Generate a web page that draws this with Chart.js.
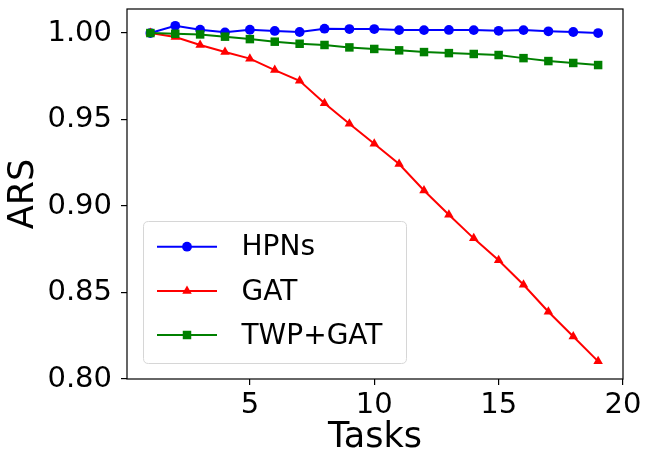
<!DOCTYPE html>
<html>
<head>
<meta charset="utf-8">
<script src="https://cdn.jsdelivr.net/npm/chart.js@4/dist/chart.umd.min.js"></script>
<style>
html,body{margin:0;padding:0;background:#fff;}
#wrap{width:652px;height:467px;position:relative;}
</style>
</head>
<body>
<div id="wrap"><canvas id="c"></canvas></div>
<script>
const tasks = [1,2,3,4,5,6,7,8,9,10,11,12,13,14,15,16,17,18,19];
const hpns = [1.000,1.0042,1.0019,1.0004,1.0019,1.0012,1.0006,1.0025,1.0023,1.0023,1.0017,1.0017,1.0018,1.0017,1.0013,1.0017,1.0010,1.0006,1.0000];
const gat = [1.000,0.9977,0.9931,0.9890,0.9852,0.9786,0.9724,0.9594,0.9476,0.9360,0.9243,0.9090,0.8950,0.8813,0.8686,0.8545,0.8389,0.8246,0.8102];
const twpgat = [1.000,0.9996,0.9992,0.9979,0.9965,0.9950,0.9938,0.9931,0.9917,0.9908,0.9900,0.9890,0.9884,0.9879,0.9873,0.9855,0.9838,0.9827,0.9815];
const seriesLabels = ['HPNs','GAT','TWP+GAT'];
const xTicks = [5,10,15,20];
const yTicks = [0.80,0.85,0.90,0.95,1.00];
const xTitle = 'Tasks';
const yTitle = 'ARS';

const FONT = "'DejaVu Sans', sans-serif";
const colors = ['#0000ff','#ff0000','#008000'];
const styles = ['circle','triangle','rect'];
const radii = [4.9,5.5,6];

function mk(i, data){
  return {
    label: seriesLabels[i],
    data: tasks.map((t,k)=>({x:t,y:data[k]})),
    borderColor: colors[i],
    backgroundColor: colors[i],
    pointBackgroundColor: colors[i],
    pointBorderColor: colors[i],
    pointBorderWidth: 0,
    pointStyle: styles[i],
    pointRadius: radii[i],
    pointHoverRadius: radii[i],
    borderWidth: 2,
    tension: 0,
    fill: false,
    order: 3 - i,
    clip: false
  };
}

function drawMarker(ctx, style, x, y, r, color){
  ctx.save();
  ctx.fillStyle = color;
  ctx.beginPath();
  if (style === 'circle') {
    ctx.arc(x, y, r, 0, Math.PI*2);
  } else if (style === 'triangle') {
    for (let k=0;k<3;k++){
      const a = k*2*Math.PI/3;
      const px = x + Math.sin(a)*r, py = y - Math.cos(a)*r;
      if(k===0) ctx.moveTo(px,py); else ctx.lineTo(px,py);
    }
    ctx.closePath();
  } else {
    const s = Math.SQRT1_2*r;
    ctx.rect(x-s,y-s,2*s,2*s);
  }
  ctx.fill();
  ctx.restore();
}

const framePlugin = {
  id: 'frame',
  afterDraw(chart){
    const {ctx, chartArea:a} = chart;
    ctx.save();
    ctx.strokeStyle = '#000';
    ctx.lineWidth = 1.2;
    ctx.strokeRect(a.left, a.top, a.right - a.left, a.bottom - a.top);
    ctx.restore();
  }
};

const legendPlugin = {
  id: 'mplLegend',
  afterDraw(chart){
    const ctx = chart.ctx;
    const x0 = 143.5, y0 = 221.5, w = 263, h = 142, rr = 5;
    ctx.save();
    ctx.fillStyle = 'rgba(255,255,255,0.8)';
    ctx.strokeStyle = '#d6d6d6';
    ctx.lineWidth = 1;
    ctx.beginPath();
    ctx.moveTo(x0+rr,y0);
    ctx.lineTo(x0+w-rr,y0); ctx.quadraticCurveTo(x0+w,y0,x0+w,y0+rr);
    ctx.lineTo(x0+w,y0+h-rr); ctx.quadraticCurveTo(x0+w,y0+h,x0+w-rr,y0+h);
    ctx.lineTo(x0+rr,y0+h); ctx.quadraticCurveTo(x0,y0+h,x0,y0+h-rr);
    ctx.lineTo(x0,y0+rr); ctx.quadraticCurveTo(x0,y0,x0+rr,y0);
    ctx.closePath();
    ctx.fill(); ctx.stroke();
    const rows = [246.7, 291, 335];
    chart.data.datasets.forEach((ds,i)=>{
      const y = rows[i];
      ctx.strokeStyle = ds.borderColor;
      ctx.lineWidth = 2;
      ctx.beginPath(); ctx.moveTo(157,y); ctx.lineTo(217,y); ctx.stroke();
      drawMarker(ctx, ds.pointStyle, 187, y, ds.pointRadius, ds.borderColor);
      ctx.fillStyle = '#000';
      ctx.font = '28px ' + FONT;
      ctx.textBaseline = 'middle';
      ctx.textAlign = 'left';
      ctx.fillText(ds.label, 241.5, y+1.5);
    });
    ctx.restore();
  }
};

new Chart(document.getElementById('c'), {
  type: 'line',
  data: { datasets: [mk(0,hpns), mk(1,gat), mk(2,twpgat)] },
  options: {
    responsive: true,
    maintainAspectRatio: false,
    devicePixelRatio: 1,
    animation: false,
    events: [],
    layout: { padding: { left: 0, right: 29, top: 9, bottom: 0 } },
    plugins: { legend: { display: false }, tooltip: { enabled: false } },
    scales: {
      x: {
        type: 'linear',
        min: 0.06,
        max: 20,
        afterBuildTicks(s){ s.ticks = xTicks.map(v=>({value:v})); },
        afterFit(s){ s.height = 88; s.paddingLeft = 0; s.paddingRight = 0; },
        grid: { display: true, drawOnChartArea: false, drawTicks: true, tickLength: 6, color: '#000', lineWidth: 1.2 },
        border: { display: false },
        ticks: { color: '#000', font: { family: FONT, size: 29 }, padding: 3, maxRotation: 0, autoSkip: false,
          callback: v => String(v) },
        title: { display: true, text: xTitle, color: '#000', font: { family: FONT, size: 35 }, padding: { top: 0, bottom: 8 } }
      },
      y: {
        type: 'linear',
        min: 0.80,
        max: 1.0139,
        afterBuildTicks(s){ s.ticks = yTicks.map(v=>({value:v})); },
        afterFit(s){ s.width = 127; s.paddingTop = 0; s.paddingBottom = 0; },
        grid: { display: true, drawOnChartArea: false, drawTicks: true, tickLength: 6, color: '#000', lineWidth: 1.2 },
        border: { display: false },
        ticks: { color: '#000', font: { family: FONT, size: 29 }, padding: 9, autoSkip: false,
          callback: v => Number(v).toFixed(2) },
        title: { display: true, text: yTitle, color: '#000', font: { family: FONT, size: 35 }, padding: { top: 3, bottom: 0 } }
      }
    }
  },
  plugins: [framePlugin, legendPlugin]
});
</script>
</body>
</html>
